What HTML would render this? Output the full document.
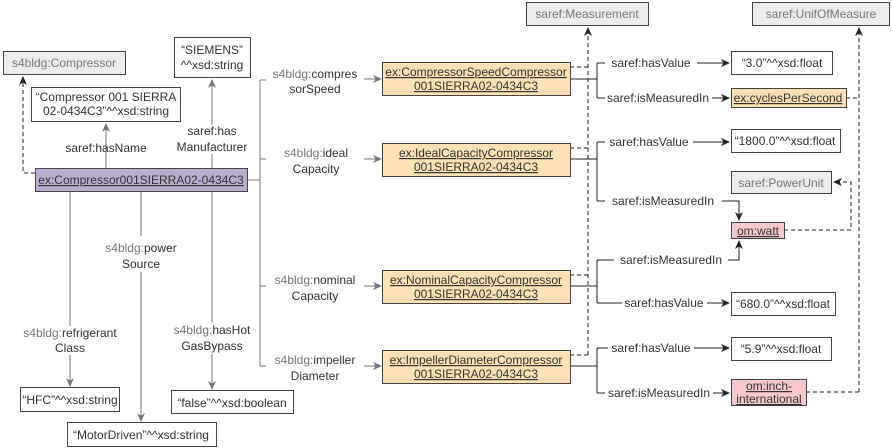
<!DOCTYPE html>
<html><head><meta charset="utf-8"><style>
html,body{margin:0;padding:0;background:#fff;}
svg{display:block;font-family:"Liberation Sans",Arial,sans-serif;font-size:12px;}
.t{fill:#333;}
.g{fill:#777;}
.u{text-decoration:underline;}
</style></head><body>
<svg width="892" height="448" viewBox="0 0 892 448" xmlns="http://www.w3.org/2000/svg">
<defs>
<marker id="ab" markerWidth="10" markerHeight="10" refX="8" refY="4" orient="auto" markerUnits="userSpaceOnUse"><path d="M0,0 L9,4 L0,8 L2.5,4 Z" fill="#222"/></marker>
<marker id="ag" markerWidth="10" markerHeight="10" refX="8" refY="4" orient="auto" markerUnits="userSpaceOnUse"><path d="M0,0 L9,4 L0,8 L2.5,4 Z" fill="#777"/></marker>
</defs>
<g stroke="#777" fill="none" stroke-width="1">
<path d="M106,168 V124" marker-end="url(#ag)"/>
<path d="M212,168 V154 M212,125 V80" marker-end="url(#ag)"/>
<path d="M247,180 H260 M260,80 V366 M260,80 H266 M260,159 H266 M260,286 H266 M260,366 H266"/>
<path d="M364,79 H381" marker-end="url(#ag)"/>
<path d="M364,159 H381" marker-end="url(#ag)"/>
<path d="M364,286 H381" marker-end="url(#ag)"/>
<path d="M364,366 H381" marker-end="url(#ag)"/>
<path d="M70,191 V326 M70,355 V386" marker-end="url(#ag)"/>
<path d="M141,191 V236 M141,272 V421" marker-end="url(#ag)"/>
<path d="M212,191 V322 M212,354 V389" marker-end="url(#ag)"/>
</g>
<g stroke="#222" fill="none" stroke-dasharray="4,3">
<path d="M35,173 H23 V77" marker-end="url(#ab)"/>
<path d="M570,67 H588 M570,148 H588 M570,275 H588 M570,355 H588"/>
<path d="M588,355 V28" marker-end="url(#ab)"/>
<path d="M846,98 H859 M806,392 H859"/>
<path d="M859,392 V28" marker-end="url(#ab)"/>
<path d="M784,230 H851 V182 H834" marker-end="url(#ab)"/>
</g>
<g stroke="#222" fill="none">
<path d="M570,79 H597 M597,63 V98 M597,63 H605 M597,98 H605"/>
<path d="M697,63 H729" marker-end="url(#ab)"/>
<path d="M712,98 H729" marker-end="url(#ab)"/>
<path d="M570,159 H597 M597,142 V201 M597,142 H605 M597,201 H605"/>
<path d="M693,142 H729" marker-end="url(#ab)"/>
<path d="M722,201 H739 V220" marker-end="url(#ab)"/>
<path d="M570,286 H597 M597,260 V303 M597,260 H614 M597,303 H622"/>
<path d="M728,260 H739 V241" marker-end="url(#ab)"/>
<path d="M707,303 H729" marker-end="url(#ab)"/>
<path d="M570,366 H597 M597,348 V393 M597,348 H608 M597,393 H605"/>
<path d="M694,348 H729" marker-end="url(#ab)"/>
<path d="M713,393 H729" marker-end="url(#ab)"/>
</g>
<g stroke="#444" stroke-width="1">
<rect x="3.5" y="51.5" width="122" height="23" fill="#ececec"/>
<rect x="174.5" y="37.5" width="76" height="40" fill="#fff"/>
<rect x="31.5" y="87.5" width="149" height="34" fill="#fff"/>
<rect x="35.5" y="168.5" width="212" height="23" fill="#b8aed2"/>
<rect x="382.5" y="62.5" width="188" height="33" fill="#fde0b3"/>
<rect x="382.5" y="143.5" width="188" height="33" fill="#fde0b3"/>
<rect x="382.5" y="270.5" width="188" height="33" fill="#fde0b3"/>
<rect x="382.5" y="350.5" width="188" height="33" fill="#fde0b3"/>
<rect x="526.5" y="2.5" width="122" height="23" fill="#ececec"/>
<rect x="752.5" y="2.5" width="137" height="23" fill="#ececec"/>
<rect x="731.5" y="51.5" width="101" height="23" fill="#fff"/>
<rect x="731.5" y="88.5" width="115" height="19" fill="#fde0b3"/>
<rect x="731.5" y="129.5" width="109" height="23" fill="#fff"/>
<rect x="731.5" y="171.5" width="100" height="22" fill="#ececec"/>
<rect x="731.5" y="222.5" width="53" height="16" fill="#f8c9cc"/>
<rect x="731.5" y="292.5" width="104" height="23" fill="#fff"/>
<rect x="731.5" y="337.5" width="100" height="23" fill="#fff"/>
<rect x="731.5" y="379.5" width="75" height="26" fill="#f8c9cc"/>
<rect x="20.5" y="387.5" width="99" height="24" fill="#fff"/>
<rect x="171.5" y="390.5" width="122" height="23" fill="#fff"/>
<rect x="67.5" y="422.5" width="149" height="24" fill="#fff"/>
</g>
<g text-anchor="middle">
<text x="64" y="67" class="g">s4bldg:Compressor</text>
<text x="212" y="54" class="t">“SIEMENS”</text>
<text x="212" y="69" class="t">^^xsd:string</text>
<text x="106" y="101" class="t">“Compressor 001 SIERRA</text>
<text x="106" y="115" class="t">02-0434C3”^^xsd:string</text>
<text x="141" y="184" class="t u">ex:Compressor001SIERRA02-0434C3</text>
<text x="106" y="152" class="t">saref:hasName</text>
<text x="212" y="135" class="t">saref:has</text>
<text x="212" y="151" class="t">Manufacturer</text>
<text x="315" y="78"><tspan class="g">s4bldg:</tspan><tspan class="t">compres</tspan></text>
<text x="315" y="93" class="t">sorSpeed</text>
<text x="316" y="157"><tspan class="g">s4bldg:</tspan><tspan class="t">ideal</tspan></text>
<text x="316" y="173" class="t">Capacity</text>
<text x="315" y="284"><tspan class="g">s4bldg:</tspan><tspan class="t">nominal</tspan></text>
<text x="315" y="300" class="t">Capacity</text>
<text x="315" y="364"><tspan class="g">s4bldg:</tspan><tspan class="t">impeller</tspan></text>
<text x="315" y="380" class="t">Diameter</text>
<text x="141" y="252"><tspan class="g">s4bldg:</tspan><tspan class="t">power</tspan></text>
<text x="141" y="268" class="t">Source</text>
<text x="70" y="337"><tspan class="g">s4bldg:</tspan><tspan class="t">refrigerant</tspan></text>
<text x="70" y="352" class="t">Class</text>
<text x="212" y="334"><tspan class="g">s4bldg:</tspan><tspan class="t">hasHot</tspan></text>
<text x="212" y="350" class="t">GasBypass</text>
<text x="70" y="404" class="t">“HFC”^^xsd:string</text>
<text x="232" y="407" class="t">“false”^^xsd:boolean</text>
<text x="141" y="439" class="t">“MotorDriven”^^xsd:string</text>
<text x="476" y="76" class="t u">ex:CompressorSpeedCompressor</text>
<text x="476" y="90" class="t u">001SIERRA02-0434C3</text>
<text x="476" y="157" class="t u">ex:IdealCapacityCompressor</text>
<text x="476" y="171" class="t u">001SIERRA02-0434C3</text>
<text x="476" y="284" class="t u">ex:NominalCapacityCompressor</text>
<text x="476" y="298" class="t u">001SIERRA02-0434C3</text>
<text x="476" y="364" class="t u">ex:ImpellerDiameterCompressor</text>
<text x="476" y="378" class="t u">001SIERRA02-0434C3</text>
<text x="587" y="18" class="g">saref:Measurement</text>
<text x="821" y="18" class="g">saref:UnifOfMeasure</text>
<text x="651" y="67" class="t">saref:hasValue</text>
<text x="658" y="102" class="t">saref:isMeasuredIn</text>
<text x="649" y="146" class="t">saref:hasValue</text>
<text x="663" y="205" class="t">saref:isMeasuredIn</text>
<text x="671" y="264" class="t">saref:isMeasuredIn</text>
<text x="664" y="307" class="t">saref:hasValue</text>
<text x="651" y="352" class="t">saref:hasValue</text>
<text x="659" y="397" class="t">saref:isMeasuredIn</text>
<text x="782" y="67" class="t">“3.0”^^xsd:float</text>
<text x="788" y="102" class="t u">ex:cyclesPerSecond</text>
<text x="785" y="145" class="t">“1800.0”^^xsd:float</text>
<text x="781" y="187" class="g">saref:PowerUnit</text>
<text x="758" y="235" class="t u">om:watt</text>
<text x="783" y="308" class="t">“680.0”^^xsd:float</text>
<text x="781" y="353" class="t">“5.9”^^xsd:float</text>
<text x="769" y="390" class="t u">om:inch-</text>
<text x="769" y="403" class="t u">international</text>
</g>
</svg>
</body></html>
